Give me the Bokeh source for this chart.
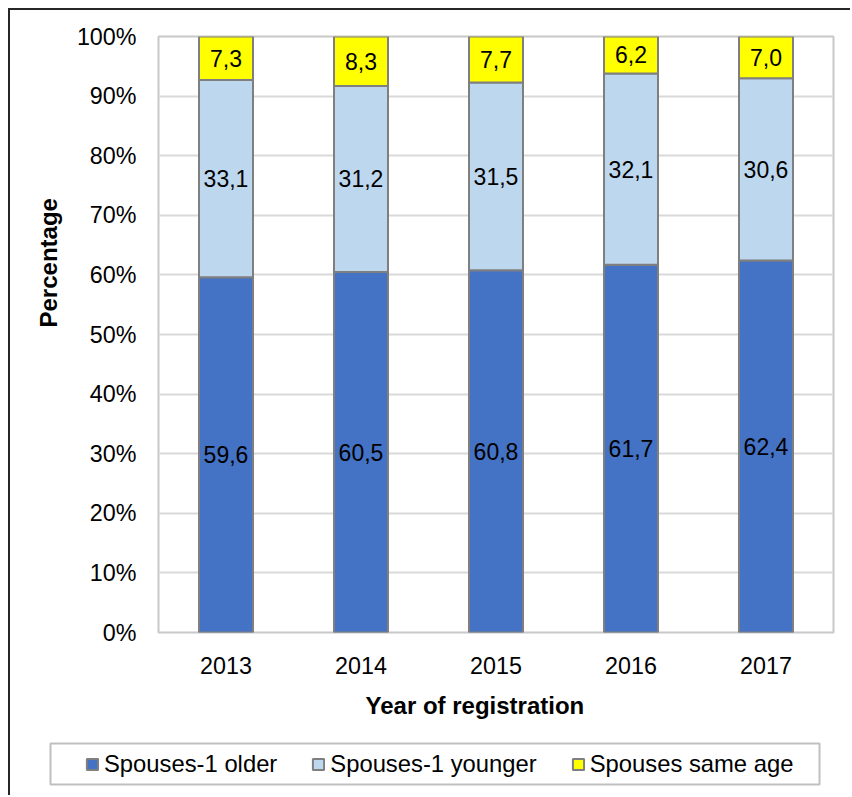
import numpy as np
from bokeh.plotting import figure
from bokeh.layouts import column
from bokeh.models import (ColumnDataSource, FactorRange, Range1d, Legend, LegendItem,
                          FixedTicker, Title)
from bokeh.core.properties import value
from bokeh.embed import file_html
from bokeh.resources import INLINE

# ---- data ----
years = ["2013", "2014", "2015", "2016", "2017"]
older = [59.6, 60.5, 60.8, 61.7, 62.4]
younger = [33.1, 31.2, 31.5, 32.1, 30.6]
same_age = [7.3, 8.3, 7.7, 6.2, 7.0]
series_names = ["Spouses-1 older", "Spouses-1 younger", "Spouses same age"]
series_colors = ["#4472C4", "#BDD7EE", "#FFFF00"]
y_ticks = [0, 10, 20, 30, 40, 50, 60, 70, 80, 90, 100]
y_tick_labels = ["0%", "10%", "20%", "30%", "40%", "50%", "60%", "70%", "80%", "90%", "100%"]
x_title = "Year of registration"
y_title = "Percentage"

FONT = "Liberation Sans"
FS = "23.3px"
TFS = "24px"
LFS = "23.8px"
BAR_LINE = "#7f7f7f"

# ---- main chart ----
p = figure(width=840, height=725, x_range=FactorRange(*years, range_padding=0),
           y_range=Range1d(0, 100), output_backend="svg", toolbar_location=None,
           min_border_left=148, min_border_top=26, min_border_right=17, min_border_bottom=103)
p.frame_align = False
p.background_fill_color = "white"
p.border_fill_color = "white"
p.outline_line_color = "#c8c8c8"
p.outline_line_width = 2

series = [older, younger, same_age]
bottom = np.zeros(len(years))
label_x, label_y, label_t = [], [], []
for vals, name, col in zip(series, series_names, series_colors):
    vals = np.array(vals, dtype=float)
    top = bottom + vals
    src = ColumnDataSource(dict(x=years, bottom=bottom.copy(), top=top.copy()))
    p.vbar(x="x", bottom="bottom", top="top", width=0.4, source=src,
           fill_color=col, line_color=BAR_LINE, line_width=2)
    for yr, b, v in zip(years, bottom, vals):
        label_x.append(yr)
        label_y.append(b + v / 2)
        label_t.append(f"{v:.1f}".replace(".", ","))
    bottom = top

lab_src = ColumnDataSource(dict(x=label_x, y=label_y, t=label_t))
p.text(x="x", y="y", text="t", source=lab_src, text_align="center", text_baseline="middle",
       text_font=value(FONT), text_font_size=value("23px"), text_color="#000000")

p.yaxis.ticker = FixedTicker(ticks=y_ticks)
p.yaxis.major_label_overrides = {t: l for t, l in zip(y_ticks, y_tick_labels)}
for ax in (p.xaxis[0], p.yaxis[0]):
    ax.axis_line_color = None
    ax.major_tick_line_color = None
    ax.minor_tick_line_color = None
    ax.major_tick_out = 0
    ax.major_tick_in = 0
    ax.major_label_text_font = FONT
    ax.major_label_text_font_size = FS
    ax.major_label_text_color = "#000000"
p.xaxis.major_label_standoff = 24
p.yaxis.major_label_standoff = 22

# axis titles as side-panel titles (allow an offset like the reference)
ytitle = Title(text=y_title, align="left", offset=305, standoff=24,
               text_font=FONT, text_font_size=TFS, text_font_style="bold", text_color="#000000")
p.add_layout(ytitle, "left")
xtitle = Title(text=x_title, align="left", offset=207, standoff=26,
               text_font=FONT, text_font_size=TFS, text_font_style="bold", text_color="#000000")
p.add_layout(xtitle, "below")

p.xgrid.grid_line_color = None
p.ygrid.grid_line_color = "#d9d9d9"
p.ygrid.grid_line_width = 2

# ---- legend strip (its frame outline is the legend box) ----
lg = figure(width=840, height=60, x_range=FactorRange(*years, range_padding=0),
            y_range=Range1d(0, 100),
            output_backend="svg", toolbar_location=None,
            x_axis_location=None, y_axis_location=None,
            min_border_left=40, min_border_right=31, min_border_top=8, min_border_bottom=11)
lg.frame_align = False
lg.background_fill_color = "white"
lg.border_fill_color = "white"
lg.outline_line_color = "#c0c0c0"
lg.outline_line_width = 2
lg.xgrid.visible = False
lg.ygrid.visible = False

# legend-only proxies: rows without a height, so nothing is drawn but the swatch
proxy_src = ColumnDataSource(dict(x=years, h=np.full(len(years), np.nan)))
items = []
for name, col in zip(series_names, series_colors):
    r = lg.vbar(x="x", bottom="h", top="h", width=0.4, source=proxy_src,
                fill_color=col, line_color=BAR_LINE, line_width=2)
    items.append(LegendItem(label=name, renderers=[r]))
legend = Legend(items=items, orientation="horizontal", location="left", padding=0,
                spacing=34, glyph_width=14, glyph_height=14, label_standoff=5, margin=35,
                border_line_color=None, background_fill_alpha=0,
                label_text_font=FONT, label_text_font_size=LFS, label_text_color="#000000")
lg.add_layout(legend, "center")

layout = column(p, lg, spacing=0)
layout.margin = (8, 0, 0, 8)
layout.styles = {"border-top": "2px solid #262626", "border-left": "2px solid #262626"}

open("out.html", "w").write(file_html(layout, INLINE))
